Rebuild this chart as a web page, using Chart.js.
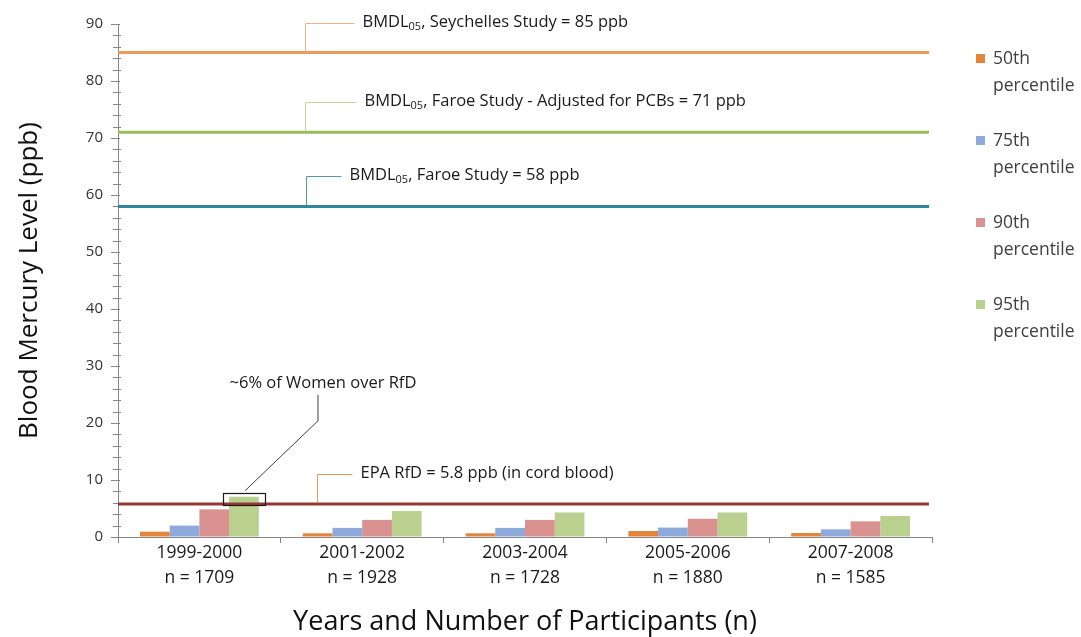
<!DOCTYPE html>
<html><head><meta charset="utf-8">
<script src="https://cdn.jsdelivr.net/npm/chart.js@4"></script>
<style>html,body{margin:0;padding:0;background:#fff}#wrap{width:1081px;height:637px;position:relative}</style>
</head><body><div id="wrap"><canvas id="c" width="1081" height="637"></canvas></div>
<script>
// ---- data ----
const categories = ['1999-2000', '2001-2002', '2003-2004', '2005-2006', '2007-2008'];
const participants = [1709, 1928, 1728, 1880, 1585];
const seriesNames = ['50th percentile', '75th percentile', '90th percentile', '95th percentile'];
const p50 = [0.93, 0.65, 0.65, 1.05, 0.7];
const p75 = [2.0, 1.6, 1.6, 1.65, 1.35];
const p90 = [4.85, 3.0, 3.0, 3.2, 2.75];
const p95 = [7.05, 4.55, 4.3, 4.3, 3.7];
const refValues = [85, 71, 58, 5.8];
const refLabels = [
  ['BMDL', '05', ', Seychelles Study = 85 ppb'],
  ['BMDL', '05', ', Faroe Study - Adjusted for PCBs = 71 ppb'],
  ['BMDL', '05', ', Faroe Study = 58 ppb'],
  ['EPA RfD = 5.8 ppb (in cord blood)', '', '']
];
const calloutText = '~6% of Women over RfD';
const yMin = 0, yMax = 90, yMajor = 10, yMinor = 2;

// ---- styles ----
const FONT = '"Open Sans", Lato, sans-serif';
const barColors = ['#E4853A', '#8EAADC', '#D99290', '#B9D08F'];
const refColors = ['#F0975A', '#9BBB59', '#31859C', '#953735'];
const connColors = ['#F4B183', '#C4D79B', '#4F9AB0', '#DC9A5E'];
// connector x (category index units) and horizontal arm length (px)
const connX = [0.65, 0.65, 0.655, 0.72];
const connArm = [49, 51, 35, 35];

const labels = categories.map((c, i) => [c, 'n = ' + participants[i]]);
const seriesData = [p50, p75, p90, p95];

const overlay = {
  id: 'overlay',
  afterDatasetsDraw(chart) {
    const ctx = chart.ctx, xs = chart.scales.x, ys = chart.scales.y, ca = chart.chartArea;
    ctx.save();
    // minor/major ticks on y axis
    ctx.strokeStyle = '#868686'; ctx.lineWidth = 1;
    for (let v = yMin; v <= yMax; v += yMinor) {
      const y = Math.round(ys.getPixelForValue(v)) + 0.5;
      const major = v % yMajor === 0;
      ctx.beginPath();
      ctx.moveTo(ca.left - (major ? 7 : 5), y);
      ctx.lineTo(ca.left + (major ? 2 : 3), y);
      ctx.stroke();
    }
    // reference lines with callouts
    refValues.forEach((v, i) => {
      const y = ys.getPixelForValue(v);
      ctx.strokeStyle = refColors[i]; ctx.lineWidth = 3;
      ctx.beginPath(); ctx.moveTo(ca.left, y); ctx.lineTo(ca.right - 3, y); ctx.stroke();
      const cx = Math.round(xs.getPixelForValue(connX[i])) + 0.5;
      const ey = Math.round(y - 30) + 0.5;
      ctx.strokeStyle = connColors[i]; ctx.lineWidth = 1;
      ctx.beginPath(); ctx.moveTo(cx, y - 1); ctx.lineTo(cx, ey); ctx.lineTo(cx + connArm[i], ey); ctx.stroke();
      // text
      let tx = cx + connArm[i] + 8;
      const ty = ey - 1;
      ctx.fillStyle = '#1a1a1a'; ctx.textBaseline = 'middle'; ctx.textAlign = 'left';
      const [a, sub, b] = refLabels[i];
      ctx.font = '16.5px ' + FONT;
      ctx.fillText(a, tx, ty); tx += ctx.measureText(a).width;
      if (sub) {
        ctx.font = '11px ' + FONT;
        ctx.fillText(sub, tx, ty + 4); tx += ctx.measureText(sub).width;
      }
      if (b) { ctx.font = '16.5px ' + FONT; ctx.fillText(b, tx, ty); }
    });
    // callout box around 95th bar of first group
    const bar = chart.getDatasetMeta(3).data[0];
    const bx0 = bar.x - 21, bx1 = bar.x + 21, by0 = bar.y - 4, by1 = bar.y + 8;
    ctx.strokeStyle = '#1a1a1a'; ctx.lineWidth = 1.2;
    ctx.strokeRect(Math.round(bx0) + 0.5, Math.round(by0) + 0.5, bx1 - bx0, by1 - by0);
    ctx.strokeStyle = '#404040'; ctx.lineWidth = 1;
    const ex = bar.x + 74, ey2 = by0 - 72;
    ctx.beginPath();
    ctx.moveTo(bar.x + 1, by0 - 2); ctx.lineTo(ex, ey2); ctx.lineTo(ex, ey2 - 26); ctx.stroke();
    ctx.fillStyle = '#1a1a1a'; ctx.font = '16.5px ' + FONT; ctx.textAlign = 'center'; ctx.textBaseline = 'middle';
    ctx.fillText(calloutText, ex + 5, ey2 - 38);
    // legend
    ctx.textAlign = 'left';
    chart.data.datasets.forEach((ds, i) => {
      const yc = 58 + i * 82;
      ctx.fillStyle = ds.backgroundColor;
      ctx.fillRect(976, yc - 4, 9, 9);
      ctx.fillStyle = '#404040'; ctx.font = '17.5px ' + FONT;
      const parts = ds.label.split(' ');
      ctx.fillText(parts[0], 993, yc + 1);
      ctx.fillText(parts.slice(1).join(' '), 993, yc + 28);
    });
    ctx.restore();
  }
};

new Chart(document.getElementById('c'), {
  type: 'bar',
  data: {
    labels: labels,
    datasets: seriesData.map((d, i) => ({
      label: seriesNames[i], data: d, backgroundColor: barColors[i],
      categoryPercentage: 0.73, barPercentage: 1.0, borderWidth: 0
    }))
  },
  options: {
    responsive: false, animation: false, devicePixelRatio: 1,
    layout: { padding: { left: 0, right: 149, top: 23, bottom: 0 } },
    plugins: { legend: { display: false }, tooltip: { enabled: false } },
    scales: {
      x: {
        afterFit(s) { s.height = 100; },
        grid: { offset: true, drawOnChartArea: false, tickLength: 6, color: '#868686' },
        border: { color: '#868686' },
        ticks: { color: '#1a1a1a', font: { family: FONT, size: 17.5, lineHeight: 1.45 }, padding: -3, maxRotation: 0 },
        title: { display: true, text: 'Years and Number of Participants (n)', color: '#111',
          font: { family: FONT, size: 27 }, padding: { top: 0, bottom: -2 } }
      },
      y: {
        min: yMin, max: yMax,
        afterFit(s) { s.width = 118; },
        grid: { drawOnChartArea: false, drawTicks: false, color: '#868686' },
        border: { color: '#868686' },
        ticks: { stepSize: yMajor, color: '#333', font: { family: FONT, size: 15 }, padding: 15 },
        title: { display: true, text: 'Blood Mercury Level (ppb)', color: '#111',
          font: { family: FONT, size: 26 }, padding: { top: 14, bottom: 0 } }
      }
    }
  },
  plugins: [overlay]
});
</script>
</body></html>
